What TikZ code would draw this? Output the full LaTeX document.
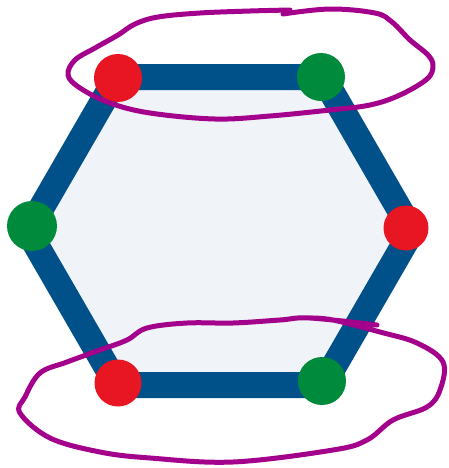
\documentclass[tikz,border=0pt]{standalone}
\usepackage{xcolor}
\usepackage{tikz}
\usetikzlibrary{positioning}

\definecolor{hexblue}{RGB}{0,80,138}
\definecolor{hexfill}{RGB}{240,244,248}
\definecolor{blobred}{RGB}{232,21,35}
\definecolor{blobgreen}{RGB}{0,138,60}
\definecolor{loopviolet}{RGB}{163,0,140}

\tikzset{
  redblob/.style={circle, fill=blobred, inner sep=0pt, minimum size=0.96cm},
  greenblob/.style={circle, fill=blobgreen, inner sep=0pt, minimum size=0.96cm},
  freeloop/.style={draw=loopviolet, line width=0.1cm, line cap=round, line join=round}
}

\begin{document}
\begin{tikzpicture}[x=0.02cm, y=-0.02cm]
    \useasboundingbox (0,0) rectangle (449,468);

    % corners of the hexagon
    \coordinate (tl) at (117,77);
    \coordinate (tr) at (323,77);
    \coordinate (rt) at (412,231);
    \coordinate (br) at (323,385);
    \coordinate (bl) at (117,385);
    \coordinate (lt) at (28,231);

    % hexagon
    \filldraw[fill=hexfill, draw=hexblue, line width=0.52cm]
      (tl) -- (tr) -- (rt) -- (br) -- (bl) -- (lt) -- cycle;

    % blobs on the corners
    \node[redblob] (ptl) at (118,78) {};
    \node[greenblob] (ptr) at (321,77) {};
    \node[redblob, minimum size=0.9cm] (prt) at (406,228) {};
    \node[greenblob, minimum size=1cm] (plt) at (32,226) {};
    \node[redblob, minimum size=0.94cm] (pbl) at (118,383) {};
    \node[greenblob] (pbr) at (322,381) {};

    % loop round the top edge
    \draw[freeloop] plot[smooth, tension=0.6] coordinates {
      (283,14) (330,9) (375,13) (392,22) (410,40) (428,55) (433,66)
      (427,79) (400,95) (370,105) (330,110) (270,116) (215,119)
      (150,113) (110,103) (80,88) (68,75) (75,60) (95,48) (118,35)
      (135,24) (158,17) (200,13) (250,11) (290,10)};

    % loop round the bottom edge
    \draw[freeloop] plot[smooth, tension=0.6] coordinates {
      (310,318) (333,320) (380,332) (417,343) (443,362) (440,390)
      (427,407) (393,420) (367,440) (333,450) (233,462) (150,458)
      (100,452) (50,438) (20,413) (25,397) (40,373) (67,362) (100,350)
      (127,340) (147,328) (187,323) (233,323) (280,320) (310,318) (377,325)};
\end{tikzpicture}
\end{document}
